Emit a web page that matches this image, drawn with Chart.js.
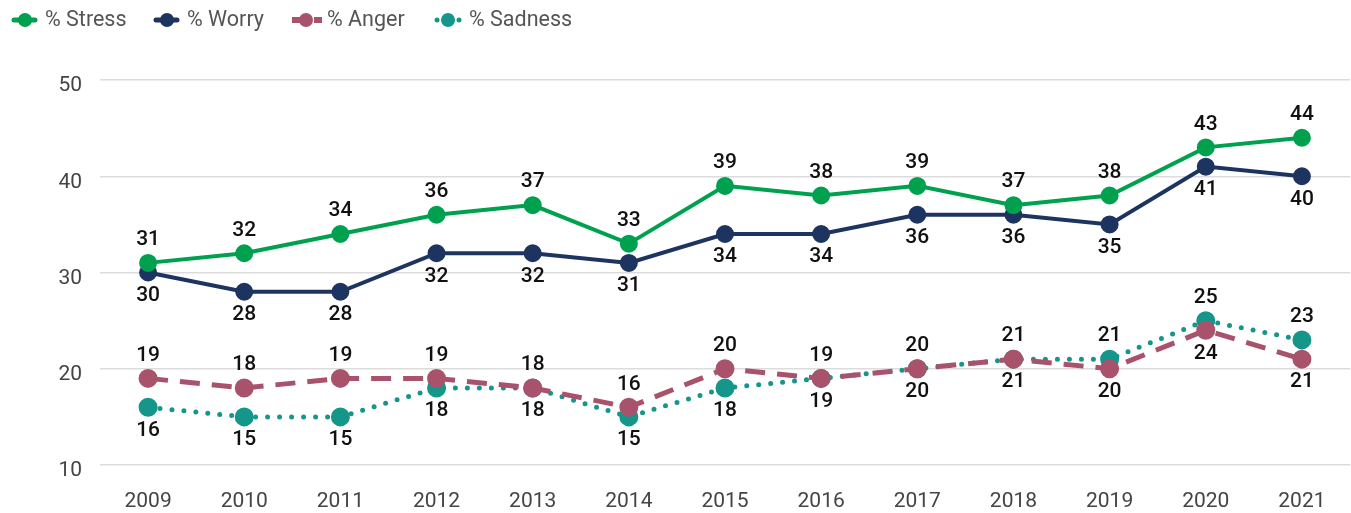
<!DOCTYPE html>
<html><head><meta charset="utf-8">
<script src="https://cdn.jsdelivr.net/npm/chart.js@4"></script>
<style>html,body{margin:0;padding:0;background:#fff;overflow:hidden}#wrap{width:1351px;height:513px;position:relative;overflow:hidden}canvas{display:block}</style>
</head><body><div id="wrap"><canvas id="c" width="1351" height="513"></canvas></div>
<script>
const years = ['2009','2010','2011','2012','2013','2014','2015','2016','2017','2018','2019','2020','2021'];
const stress  = [31,32,34,36,37,33,39,38,39,37,38,43,44];
const worry   = [30,28,28,32,32,31,34,34,36,36,35,41,40];
const anger   = [19,18,19,19,18,16,20,19,20,21,20,24,21];
const sadness = [16,15,15,18,18,15,18,19,20,21,21,25,23];
const yTicks = [10,20,30,40,50];
// label placement: 1 = above, -1 = below
const stressPos  = [1,1,1,1,1,1,1,1,1,1,1,1,1];
const worryPos   = [-1,-1,-1,-1,-1,-1,-1,-1,-1,-1,-1,-1,-1];
const angerPos   = [1,1,1,1,1,1,1,1,1,1,-1,-1,-1];
const sadnessPos = [-1,-1,-1,-1,-1,-1,-1,-1,-1,-1,1,1,1];

const C_STRESS='#00a14e', C_WORRY='#1d3461', C_ANGER='#a8536b', C_SAD='#14968a';

const labelPlugin = {
  id:'vlabels',
  afterDatasetsDraw(chart){
    const ctx = chart.ctx;
    ctx.save();
    ctx.font = '500 21px Roboto';
    ctx.fillStyle = '#111';
    ctx.textAlign = 'center';
    ctx.textBaseline = 'middle';
    chart.data.datasets.forEach((ds,di)=>{
      const meta = chart.getDatasetMeta(di);
      meta.data.forEach((pt,i)=>{
        const p = ds.labelPos[i];
        ctx.fillText(String(ds.data[i]), pt.x, pt.y - p*23);
      });
    });
    ctx.restore();
  }
};

const legendPlugin = {
  id:'customLegend',
  afterDraw(chart){
    const ctx = chart.ctx;
    const items = [
      {t:'% Stress', c:C_STRESS, x:11, dash:'solid'},
      {t:'% Worry', c:C_WORRY, x:153, dash:'solid'},
      {t:'% Anger', c:C_ANGER, x:292, dash:'anger'},
      {t:'% Sadness', c:C_SAD, x:434, dash:'sad'}
    ];
    const y = 20;
    ctx.save();
    items.forEach(it=>{
      ctx.strokeStyle = it.c; ctx.fillStyle = it.c;
      if(it.dash==='anger'){
        ctx.fillRect(it.x, y-3, 8, 6);
        ctx.fillRect(it.x+22, y-3, 8, 6);
      } else if(it.dash==='sad'){
        ctx.beginPath(); ctx.arc(it.x+3, y, 2.5, 0, Math.PI*2); ctx.fill();
        ctx.beginPath(); ctx.arc(it.x+25, y, 2.5, 0, Math.PI*2); ctx.fill();
      } else {
        ctx.lineWidth = 5; ctx.lineCap='round';
        ctx.beginPath(); ctx.moveTo(it.x+3, y); ctx.lineTo(it.x+24, y); ctx.stroke();
      }
      ctx.beginPath(); ctx.arc(it.x+14, y, 7, 0, Math.PI*2); ctx.fill();
      ctx.fillStyle = '#555';
      ctx.font = '21.5px Roboto';
      ctx.textAlign='left'; ctx.textBaseline='middle';
      ctx.fillText(it.t, it.x+(it.dash==='solid'?34:35), y+1);
    });
    ctx.restore();
  }
};

function mk(label, data, color, pos, extra){
  return Object.assign({
    label, data, labelPos: pos,
    borderColor: color, backgroundColor: color,
    pointBackgroundColor: color, pointBorderColor: color,
    pointRadius: 7, pointHoverRadius: 7, borderWidth: 4,
    tension: 0, fill: false
  }, extra||{});
}

new Chart(document.getElementById('c'), {
  type:'line',
  data:{
    labels: years,
    datasets:[
      mk('% Stress', stress, C_STRESS, stressPos),
      mk('% Worry', worry, C_WORRY, worryPos),
      mk('% Anger', anger, C_ANGER, angerPos, {borderWidth:5, borderDash:[20,12]}),
      mk('% Sadness', sadness, C_SAD, sadnessPos, {borderWidth:5, borderDash:[0,12], borderCapStyle:'round'})
    ]
  },
  options:{
    responsive:false, animation:false,
    layout:{autoPadding:false, padding:{top:80, right:1, left:0, bottom:0}},
    plugins:{legend:{display:false}, tooltip:{enabled:false}},
    scales:{
      x:{
        offset:true,
        grid:{display:false, drawTicks:false},
        border:{display:false},
        ticks:{color:'#444', font:{family:'Roboto', size:21}, padding:24},
        afterFit(s){ s.height = 48; s.paddingLeft = 0; s.paddingRight = 0; }
      },
      y:{
        min:10, max:50,
        afterBuildTicks(s){ s.ticks = yTicks.map(v=>({value:v})); },
        grid:{color:'#dcdcdc', lineWidth:1.5, drawTicks:false},
        border:{display:false},
        ticks:{color:'#444', font:{family:'Roboto', size:21}, padding:18, labelOffset:6},
        afterFit(s){ s.width = 100; s.paddingTop = 0; s.paddingBottom = 0; }
      }
    }
  },
  plugins:[labelPlugin, legendPlugin]
});
</script></body></html>
